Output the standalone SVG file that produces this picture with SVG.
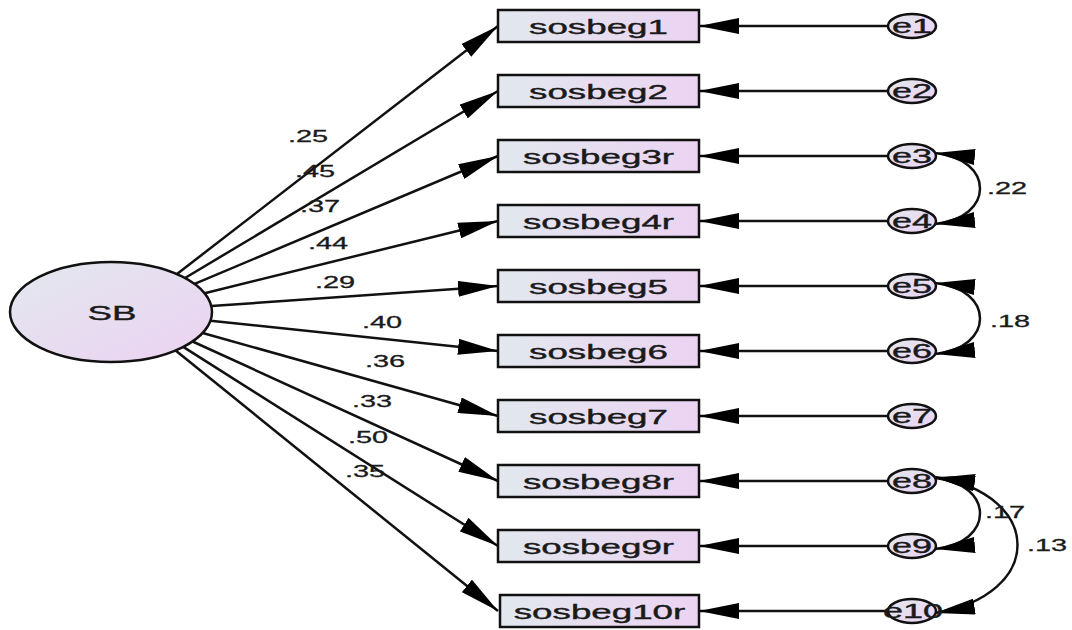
<svg xmlns="http://www.w3.org/2000/svg" width="1072" height="630" viewBox="0 0 1072 630">
<style>
.box{stroke:#111;stroke-width:2.5;fill:url(#gb)}
.ell{stroke:#111;stroke-width:2.5;fill:url(#g)}
.lbl{font-family:"Liberation Sans",Arial,sans-serif;font-size:21px;fill:#1a1a1a;stroke:#1a1a1a;stroke-width:0.4;text-anchor:middle}
.elb{font-family:"Liberation Sans",Arial,sans-serif;font-size:20px;fill:#1a1a1a;stroke:#1a1a1a;stroke-width:0.4;text-anchor:middle}
.num{font-family:"Liberation Sans",Arial,sans-serif;font-size:17px;fill:#1a1a1a;stroke:#1a1a1a;stroke-width:0.3}
.ln{stroke:#111;stroke-width:2.5;fill:none;marker-end:url(#ah)}
.cv{stroke:#111;stroke-width:2.5;fill:none;marker-end:url(#ah);marker-start:url(#ah)}
</style>
<defs>
<linearGradient id="g" x1="0" y1="0" x2="1" y2="1">
<stop offset="0" stop-color="#e2e8ee"/>
<stop offset="1" stop-color="#ecd2f2"/>
</linearGradient>
<linearGradient id="gb" x1="0" y1="0" x2="1" y2="0">
<stop offset="0" stop-color="#e2e8ee"/>
<stop offset="1" stop-color="#ebd3f2"/>
</linearGradient>
<marker id="ah" markerUnits="userSpaceOnUse" markerWidth="40" markerHeight="16" viewBox="0 0 40 16" refX="40" refY="8" orient="auto-start-reverse">
<path d="M0,0 L40,8 L0,16 z" fill="#000"/>
</marker>
</defs>
<g id="connectors">
<line class="ln" x1="177" y1="274" x2="498" y2="26"/>
<line class="ln" x1="185" y1="278" x2="498" y2="91"/>
<line class="ln" x1="194.6" y1="283.9" x2="498" y2="156"/>
<line class="ln" x1="204.6" y1="293.2" x2="498" y2="221"/>
<line class="ln" x1="211.3" y1="306.1" x2="498" y2="286"/>
<line class="ln" x1="210.5" y1="320.7" x2="498" y2="351"/>
<line class="ln" x1="202.7" y1="333" x2="498" y2="416"/>
<line class="ln" x1="192.6" y1="341.5" x2="498" y2="481"/>
<line class="ln" x1="183.2" y1="346.9" x2="498" y2="546"/>
<line class="ln" x1="175.6" y1="350.5" x2="498" y2="611"/>
<line class="ln" x1="888" y1="26" x2="699" y2="26"/>
<line class="ln" x1="888" y1="91" x2="699" y2="91"/>
<line class="ln" x1="888" y1="156" x2="699" y2="156"/>
<line class="ln" x1="888" y1="221" x2="699" y2="221"/>
<line class="ln" x1="888" y1="286" x2="699" y2="286"/>
<line class="ln" x1="888" y1="351" x2="699" y2="351"/>
<line class="ln" x1="888" y1="416" x2="699" y2="416"/>
<line class="ln" x1="888" y1="481" x2="699" y2="481"/>
<line class="ln" x1="888" y1="546" x2="699" y2="546"/>
<line class="ln" x1="888" y1="611" x2="699" y2="611"/>
<path class="cv" d="M935,153 C995,159 995,218 935,224"/>
<path class="cv" d="M935,283 C995,289 995,348 935,354"/>
<path class="cv" d="M935,478 C995,484 995,543 935,549"/>
<path class="cv" d="M935,477 C1045,495 1045,595 935,613"/>
<text class="num" transform="translate(288,142) scale(1.7,1)">.25</text>
<text class="num" transform="translate(295,177) scale(1.7,1)">.45</text>
<text class="num" transform="translate(300,212) scale(1.7,1)">.37</text>
<text class="num" transform="translate(308,249) scale(1.7,1)">.44</text>
<text class="num" transform="translate(315,288) scale(1.7,1)">.29</text>
<text class="num" transform="translate(362,328) scale(1.7,1)">.40</text>
<text class="num" transform="translate(365,367) scale(1.7,1)">.36</text>
<text class="num" transform="translate(352,407) scale(1.7,1)">.33</text>
<text class="num" transform="translate(348,443) scale(1.7,1)">.50</text>
<text class="num" transform="translate(345,477) scale(1.7,1)">.35</text>
<text class="num" transform="translate(987,194) scale(1.7,1)">.22</text>
<text class="num" transform="translate(990,327) scale(1.7,1)">.18</text>
<text class="num" transform="translate(985,518) scale(1.7,1)">.17</text>
<text class="num" transform="translate(1027,551) scale(1.7,1)">.13</text>
</g>
<g id="SB"><ellipse class="ell" cx="111" cy="312" rx="101" ry="50"/><text class="lbl" transform="translate(112,319.5) scale(1.75,1)">SB</text></g>
<g id="sosbeg1"><rect class="box" x="498" y="10" width="201" height="32"/><text class="lbl" transform="translate(598.5,33.5) scale(1.75,1)">sosbeg1</text></g>
<g id="sosbeg2"><rect class="box" x="498" y="75" width="201" height="32"/><text class="lbl" transform="translate(598.5,98.5) scale(1.75,1)">sosbeg2</text></g>
<g id="sosbeg3r"><rect class="box" x="498" y="140" width="201" height="32"/><text class="lbl" transform="translate(598.5,163.5) scale(1.75,1)">sosbeg3r</text></g>
<g id="sosbeg4r"><rect class="box" x="498" y="205" width="201" height="32"/><text class="lbl" transform="translate(598.5,228.5) scale(1.75,1)">sosbeg4r</text></g>
<g id="sosbeg5"><rect class="box" x="498" y="270" width="201" height="32"/><text class="lbl" transform="translate(598.5,293.5) scale(1.75,1)">sosbeg5</text></g>
<g id="sosbeg6"><rect class="box" x="498" y="335" width="201" height="32"/><text class="lbl" transform="translate(598.5,358.5) scale(1.75,1)">sosbeg6</text></g>
<g id="sosbeg7"><rect class="box" x="498" y="400" width="201" height="32"/><text class="lbl" transform="translate(598.5,423.5) scale(1.75,1)">sosbeg7</text></g>
<g id="sosbeg8r"><rect class="box" x="498" y="465" width="201" height="32"/><text class="lbl" transform="translate(598.5,488.5) scale(1.75,1)">sosbeg8r</text></g>
<g id="sosbeg9r"><rect class="box" x="498" y="530" width="201" height="32"/><text class="lbl" transform="translate(598.5,553.5) scale(1.75,1)">sosbeg9r</text></g>
<g id="sosbeg10r"><rect class="box" x="500" y="595" width="199" height="32"/><text class="lbl" transform="translate(599.5,618.5) scale(1.75,1)">sosbeg10r</text></g>
<g id="e1"><ellipse class="ell" cx="912" cy="26" rx="24" ry="12"/><text class="elb" transform="translate(912,33) scale(1.8,1)">e1</text></g>
<g id="e2"><ellipse class="ell" cx="912" cy="91" rx="24" ry="12"/><text class="elb" transform="translate(912,98) scale(1.8,1)">e2</text></g>
<g id="e3"><ellipse class="ell" cx="912" cy="156" rx="24" ry="12"/><text class="elb" transform="translate(912,163) scale(1.8,1)">e3</text></g>
<g id="e4"><ellipse class="ell" cx="912" cy="221" rx="24" ry="12"/><text class="elb" transform="translate(912,228) scale(1.8,1)">e4</text></g>
<g id="e5"><ellipse class="ell" cx="912" cy="286" rx="24" ry="12"/><text class="elb" transform="translate(912,293) scale(1.8,1)">e5</text></g>
<g id="e6"><ellipse class="ell" cx="912" cy="351" rx="24" ry="12"/><text class="elb" transform="translate(912,358) scale(1.8,1)">e6</text></g>
<g id="e7"><ellipse class="ell" cx="912" cy="416" rx="24" ry="12"/><text class="elb" transform="translate(912,423) scale(1.8,1)">e7</text></g>
<g id="e8"><ellipse class="ell" cx="912" cy="481" rx="24" ry="12"/><text class="elb" transform="translate(912,488) scale(1.8,1)">e8</text></g>
<g id="e9"><ellipse class="ell" cx="912" cy="546" rx="24" ry="12"/><text class="elb" transform="translate(912,553) scale(1.8,1)">e9</text></g>
<g id="e10"><ellipse class="ell" cx="912" cy="611" rx="24" ry="12"/><text class="elb" transform="translate(913,618) scale(1.8,1)">e10</text></g>
</svg>
